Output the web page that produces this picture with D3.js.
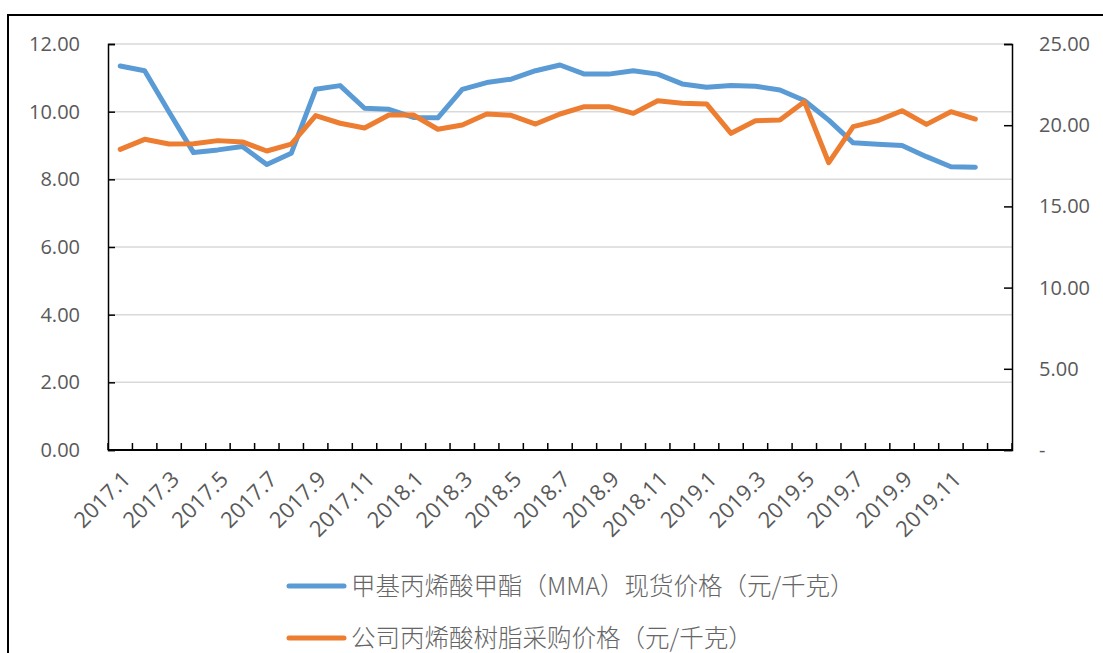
<!DOCTYPE html>
<html>
<head>
<meta charset="utf-8">
<script src="https://cdn.jsdelivr.net/npm/d3@7/dist/d3.min.js"></script>
<style>
  body { margin: 0; background: #fff; }
  svg { display: block; }
</style>
</head>
<body>
<div id="chart"></div>
<script>
// monthly categories, 2017.1 .. 2019.12 plus one empty slot at the end
const months = [];
for (let y = 2017; y <= 2019; y++) for (let m = 1; m <= 12; m++) months.push(y + "." + m);
const categories = months.concat([""]);

const mmaPrice = [11.35, 11.21, 9.99, 8.79, 8.87, 8.97, 8.44, 8.77, 10.66, 10.77, 10.10, 10.07,
                  9.83, 9.82, 10.66, 10.86, 10.96, 11.21, 11.38, 11.11, 11.11, 11.21, 11.11, 10.82,
                  10.72, 10.77, 10.75, 10.64, 10.33, 9.75, 9.08, 9.04, 9.00, 8.67, 8.37, 8.36];
const resinPrice = [18.51, 19.13, 18.84, 18.86, 19.05, 18.97, 18.41, 18.84, 20.59, 20.12, 19.83, 20.63,
                    20.63, 19.75, 20.01, 20.69, 20.61, 20.07, 20.69, 21.14, 21.14, 20.73, 21.51, 21.35,
                    21.31, 19.50, 20.27, 20.32, 21.45, 17.69, 19.91, 20.28, 20.89, 20.05, 20.83, 20.38];

const leftTicks = [0, 2, 4, 6, 8, 10, 12];
const rightTicks = [0, 5, 10, 15, 20, 25];
const legendNames = ["甲基丙烯酸甲酯（MMA）现货价格（元/千克）", "公司丙烯酸树脂采购价格（元/千克）"];
const colors = ["#5B9BD5", "#ED7D31"];

const width = 1103, height = 653;
const plotLeft = 108, plotRight = 1012, plotTop = 44, plotBottom = 450;

const svg = d3.select("#chart").append("svg")
    .attr("width", width)
    .attr("height", height);

// outer frame
svg.append("rect")
    .attr("x", 8).attr("y", 15)
    .attr("width", 1200).attr("height", 700)
    .attr("fill", "none").attr("stroke", "#000").attr("stroke-width", 2);

const x = d3.scaleBand().domain(categories).range([plotLeft, plotRight]);
const yL = d3.scaleLinear().domain([0, 12]).range([plotBottom, plotTop]);
const yR = d3.scaleLinear().domain([0, 25]).range([plotBottom, plotTop]);
const cx = d => x(d) + x.bandwidth() / 2;

// gridlines
svg.append("g")
    .selectAll("line")
    .data(leftTicks.slice(1))
    .join("line")
    .attr("x1", plotLeft).attr("x2", plotRight)
    .attr("y1", d => yL(d)).attr("y2", d => yL(d))
    .attr("stroke", "#D9D9D9").attr("stroke-width", 1.5);

const font = "'Open Sans', 'Liberation Sans', sans-serif";

// left axis
const gL = svg.append("g")
    .attr("transform", `translate(${plotLeft},0)`)
    .call(d3.axisLeft(yL).tickValues(leftTicks).tickSize(-7).tickPadding(28).tickFormat(d3.format(".2f")));
gL.select(".domain").attr("stroke", "#000").attr("stroke-width", 1.5);
gL.selectAll(".tick line").attr("stroke", "#000").attr("stroke-width", 1.5);
gL.selectAll("text").attr("fill", "#595959").style("font-family", font).style("font-size", "20px");

// right axis
const gR = svg.append("g")
    .attr("transform", `translate(${plotRight},0)`)
    .call(d3.axisRight(yR).tickValues(rightTicks).tickSize(-8).tickPadding(27)
        .tickFormat(d => d === 0 ? "-" : d3.format(".2f")(d)));
gR.select(".domain").attr("stroke", "#000").attr("stroke-width", 1.5);
gR.selectAll(".tick line").attr("stroke", "#000").attr("stroke-width", 1.5);
gR.selectAll("text").attr("fill", "#595959").style("font-family", font).style("font-size", "20px");

// bottom axis: ticks on band edges, labels every 2nd month
const gB = svg.append("g").attr("transform", `translate(0,${plotBottom})`);
gB.append("line")
    .attr("x1", plotLeft).attr("x2", plotRight)
    .attr("stroke", "#000").attr("stroke-width", 2);
gB.selectAll(".tk")
    .data(categories.concat(["_end"]))
    .join("line")
    .attr("class", "tk")
    .attr("x1", (d, i) => i < categories.length ? x(d) : plotRight)
    .attr("x2", (d, i) => i < categories.length ? x(d) : plotRight)
    .attr("y1", 0).attr("y2", -7)
    .attr("stroke", "#000").attr("stroke-width", 1.5);
gB.selectAll(".lbl")
    .data(categories.filter((d, i) => i % 2 === 0 && d !== ""))
    .join("text")
    .attr("class", "lbl")
    .attr("transform", d => `translate(${cx(d)},${19}) rotate(-45)`)
    .attr("text-anchor", "end")
    .attr("dy", "0.75em")
    .attr("fill", "#595959")
    .style("font-family", font)
    .style("font-size", "22px")
    .text(d => d);

// series
const lineL = d3.line().x((d, i) => cx(months[i])).y(d => yL(d));
const lineR = d3.line().x((d, i) => cx(months[i])).y(d => yR(d));

svg.append("path").datum(mmaPrice)
    .attr("d", lineL)
    .attr("fill", "none").attr("stroke", colors[0]).attr("stroke-width", 5)
    .attr("stroke-linejoin", "round").attr("stroke-linecap", "round");
svg.append("path").datum(resinPrice)
    .attr("d", lineR)
    .attr("fill", "none").attr("stroke", colors[1]).attr("stroke-width", 5)
    .attr("stroke-linejoin", "round").attr("stroke-linecap", "round");

// legend
const leg = svg.append("g").selectAll("g")
    .data(legendNames)
    .join("g")
    .attr("transform", (d, i) => `translate(289,${586 + i * 52})`);
leg.append("line")
    .attr("x1", 0).attr("x2", 55)
    .attr("stroke", (d, i) => colors[i]).attr("stroke-width", 5)
    .attr("stroke-linecap", "round");
leg.append("text")
    .attr("x", 62)
    .attr("dy", "0.36em")
    .attr("fill", "#666")
    .style("font-family", "'Noto Sans CJK SC', 'Open Sans', sans-serif")
    .style("font-weight", 300)
    .style("font-size", "24.5px")
    .text(d => d);
</script>
</body>
</html>
